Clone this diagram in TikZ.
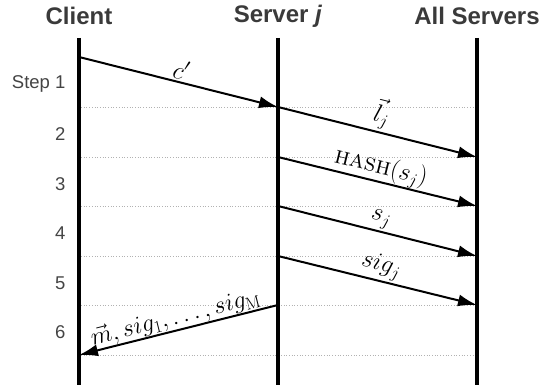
\documentclass[tikz,border=0pt]{standalone}
\usepackage{fontspec}
\setsansfont{Liberation Sans}
\usetikzlibrary{arrows.meta}
\definecolor{hdr}{HTML}{3A3A3A}
\definecolor{stp}{HTML}{444444}
\begin{document}
\begin{tikzpicture}[x=1pt,y=-1pt,
  hdrtext/.style={font=\sffamily\bfseries\fontsize{24}{28}\selectfont, text=hdr},
  steptext/.style={font=\sffamily\fontsize{18.5}{22}\selectfont, text=stp, anchor=east},
  lifeline/.style={line width=4pt},
  grid/.style={gray!60, dotted, line width=0.7pt},
  msg/.style={line width=2pt, -{Latex[length=19pt,width=12pt]}},
  lbl/.style={font=\fontsize{25}{30}\selectfont, sloped, above, inner sep=2pt}]
\useasboundingbox (0,0) rectangle (550,385);
% headers
\node[hdrtext] (hc) at (79,16) {Client};
\node[hdrtext] (hs) at (278,16) {Server \textit{j}};
\node[hdrtext] (ha) at (477,16) {All Servers};
% lifeline coordinates
\coordinate (c0) at (79,38); \coordinate (c1) at (79,385);
\coordinate (s0) at (278,38); \coordinate (s1) at (278,385);
\coordinate (a0) at (477,38); \coordinate (a1) at (477,385);
% step rows
\foreach \i/\y in {1/107,2/157,3/206,4/256,5/305,6/355}{
  \coordinate (gl\i) at (81,\y);
  \coordinate (gr\i) at (477,\y);
  \coordinate (sv\i) at (278,\y);
  \coordinate (cl\i) at (79,\y);
  \draw[grid] (gl\i) -- (gr\i);
}
\node[steptext] (st1) at (69,84) {Step 1};
\node[steptext] (st2) at (69,134) {2};
\node[steptext] (st3) at (69,184) {3};
\node[steptext] (st4) at (69,233) {4};
\node[steptext] (st5) at (69,283) {5};
\node[steptext] (st6) at (69,332) {6};
% lifelines
\draw[lifeline] (c0) -- (c1);
\draw[lifeline] (s0) -- (s1);
\draw[lifeline] (a0) -- (a1);
% messages
\coordinate (cstart) at (79,57);
\draw[msg] (cstart) -- node[lbl] {$c'$} (sv1);
\draw[msg] (sv1) -- node[lbl] {$\vec{l}_j$} (gr2);
\draw[msg] (sv2) -- node[lbl, inner sep=0pt] {$\textsc{hash}(s_j)$} (gr3);
\draw[msg] (sv3) -- node[lbl] {$s_j$} (gr4);
\draw[msg] (sv4) -- node[lbl] {$sig_j$} (gr5);
\draw[msg] (sv5) -- node[lbl, inner sep=0pt] {$\vec{m}, sig_1, \ldots, sig_{\mathrm{M}}$} (cl6);
\end{tikzpicture}
\end{document}
